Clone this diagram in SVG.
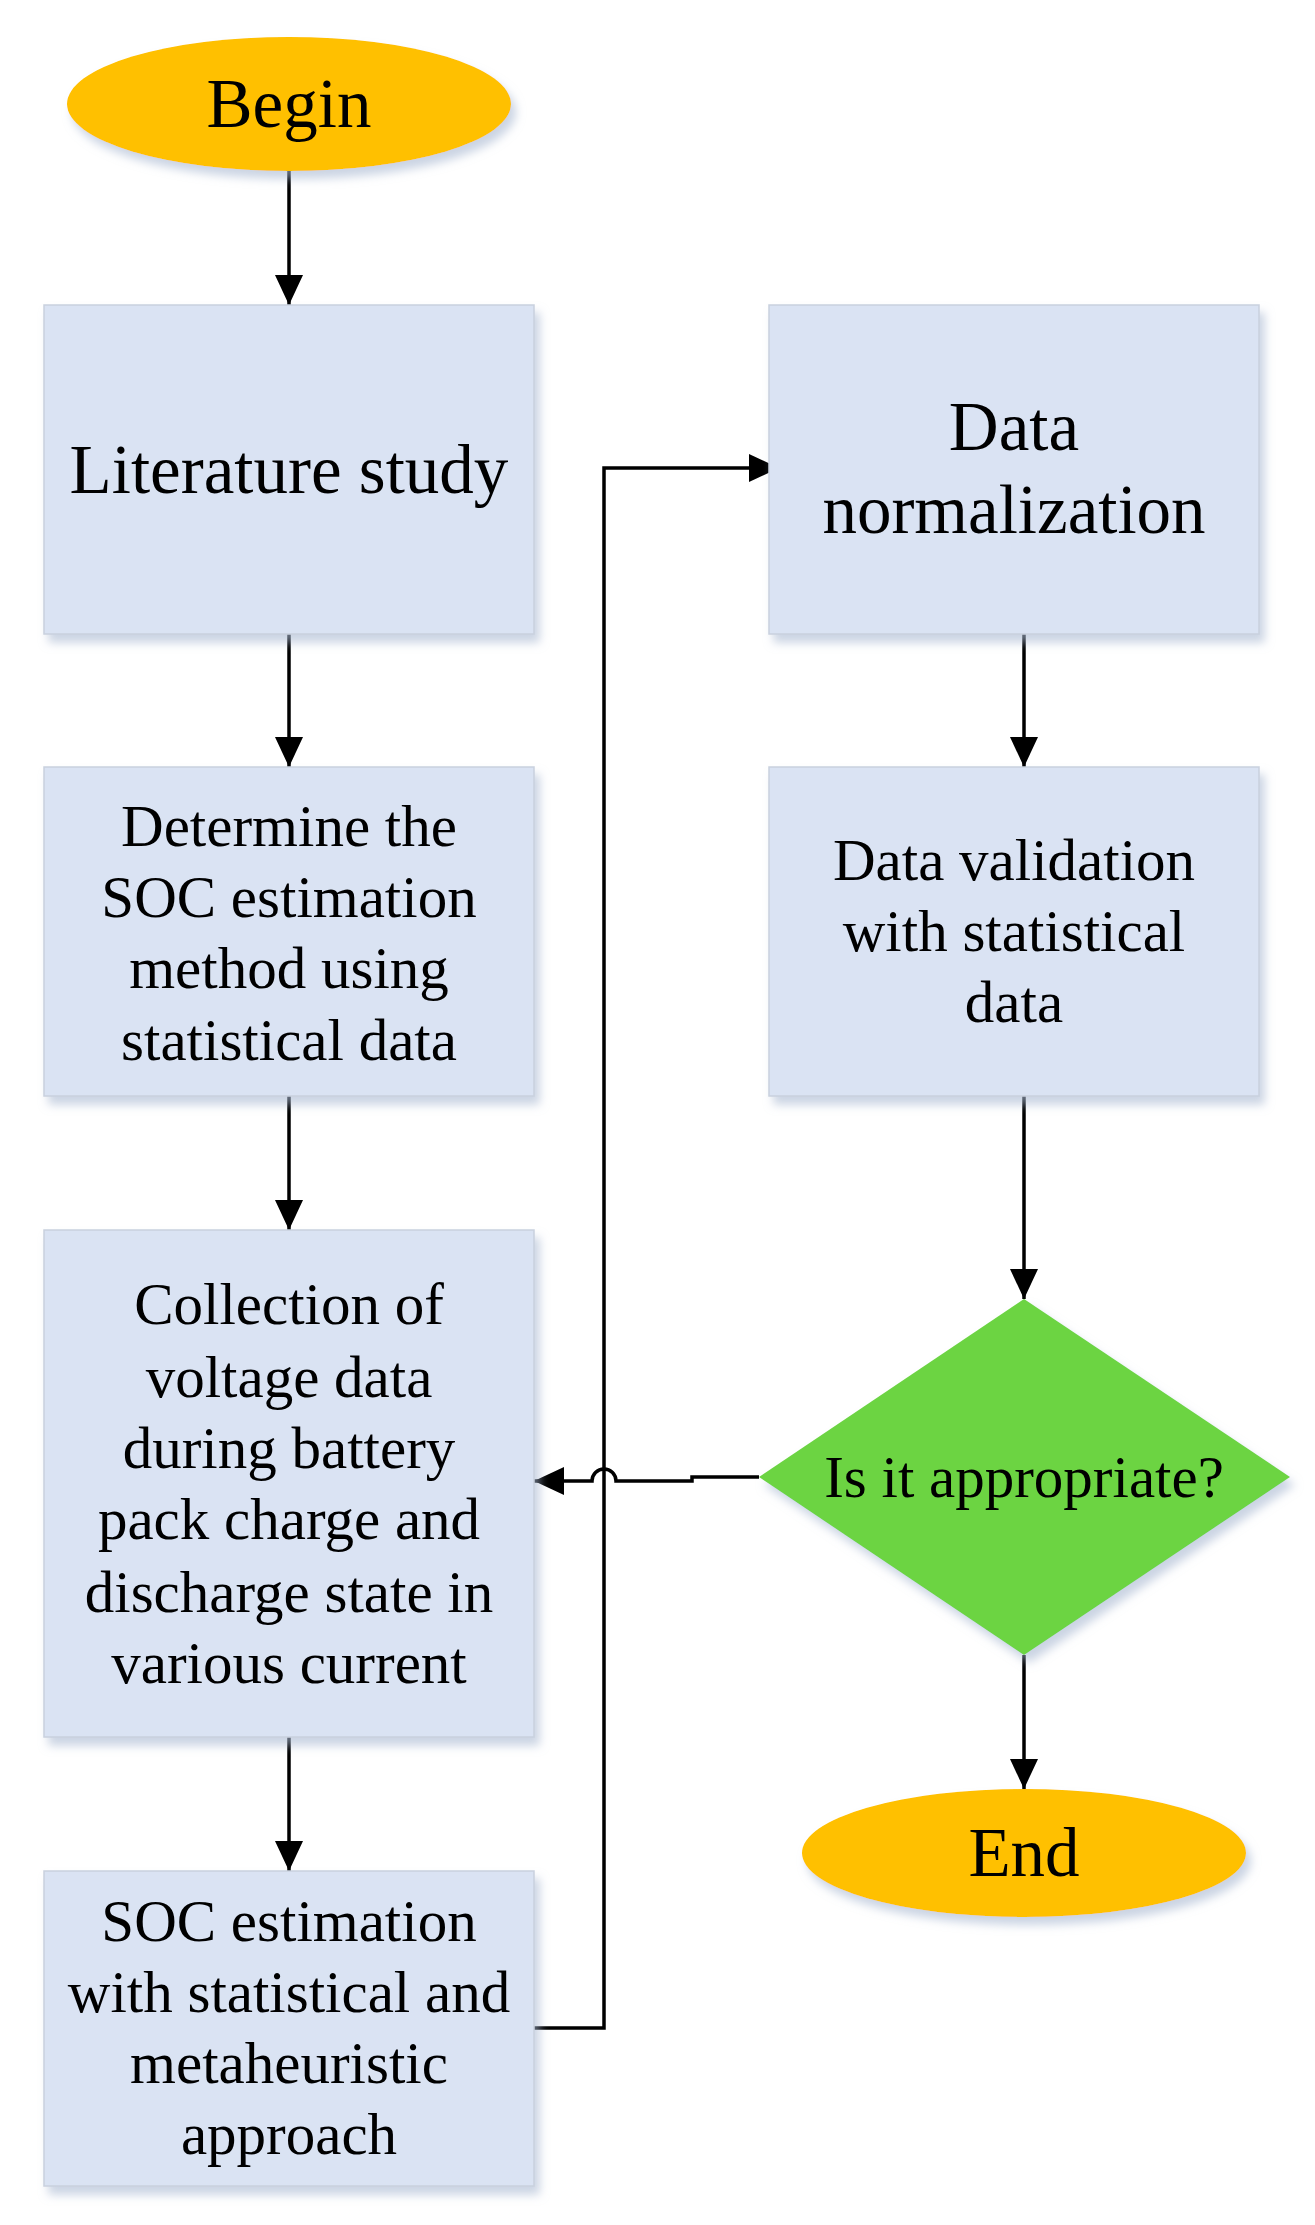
<svg xmlns="http://www.w3.org/2000/svg" width="1315" height="2225" viewBox="0 0 1315 2225">
<style>
.box{fill:#DAE3F3;stroke:#C9D1DE;stroke-width:1.5}
.term{fill:#FFC000}
.dec{fill:#6CD443}
text{font-family:"Liberation Serif","Times New Roman",serif;fill:#000;text-anchor:middle;dominant-baseline:central}
.b{font-size:59px}
.L{font-size:69px}
.ln{fill:none;stroke:#000;stroke-width:3.5}
</style>
<defs>
<filter id="sh" x="-10%" y="-10%" width="130%" height="130%">
<feDropShadow dx="5" dy="8" stdDeviation="5" flood-color="#A8B8D0" flood-opacity="0.6"/>
</filter>
<marker id="arb" viewBox="0 0 30 28" refX="30" refY="14" markerWidth="30" markerHeight="28" orient="auto" markerUnits="userSpaceOnUse">
<path d="M0,0 L30,14 L0,28 z" fill="#000"/>
</marker>
</defs>
<g id="connectors">
<line class="ln" x1="289" y1="171" x2="289" y2="305" marker-end="url(#arb)"/>
<line class="ln" x1="289" y1="634" x2="289" y2="767" marker-end="url(#arb)"/>
<line class="ln" x1="289" y1="1096" x2="289" y2="1230" marker-end="url(#arb)"/>
<line class="ln" x1="289" y1="1737" x2="289" y2="1871" marker-end="url(#arb)"/>
<polyline class="ln" points="534,2028 604,2028 604,468 779,468" marker-end="url(#arb)"/>
<line class="ln" x1="1024" y1="634" x2="1024" y2="767" marker-end="url(#arb)"/>
<line class="ln" x1="1024" y1="1096" x2="1024" y2="1299" marker-end="url(#arb)"/>
<line class="ln" x1="1024" y1="1655" x2="1024" y2="1789" marker-end="url(#arb)"/>
<path class="ln" d="M759,1477 L692,1477 L692,1481 L616,1481 A12,12 0 0 0 592,1481 L534,1481" marker-end="url(#arb)"/>
</g>
<g id="begin"><ellipse class="term" filter="url(#sh)" cx="289" cy="104" rx="222" ry="67"/><text class="L" x="289" y="104">Begin</text></g>
<g id="literature"><rect class="box" filter="url(#sh)" x="44" y="305" width="490" height="329"/><text class="L" x="289" y="470">Literature study</text></g>
<g id="determine"><rect class="box" filter="url(#sh)" x="44" y="767" width="490" height="329"/>
<text class="b" x="289" y="826">Determine the</text><text class="b" x="289" y="897">SOC estimation</text><text class="b" x="289" y="968">method using</text><text class="b" x="289" y="1040">statistical data</text></g>
<g id="collection"><rect class="box" filter="url(#sh)" x="44" y="1230" width="490" height="507"/>
<text class="b" x="289" y="1304">Collection of</text><text class="b" x="289" y="1377">voltage data</text><text class="b" x="289" y="1448">during battery</text><text class="b" x="289" y="1519">pack charge and</text><text class="b" x="289" y="1592">discharge state in</text><text class="b" x="289" y="1663">various current</text></g>
<g id="soc"><rect class="box" filter="url(#sh)" x="44" y="1871" width="490" height="315"/>
<text class="b" x="289" y="1921">SOC estimation</text><text class="b" x="289" y="1992">with statistical and</text><text class="b" x="289" y="2063">metaheuristic</text><text class="b" x="289" y="2134">approach</text></g>
<g id="normalization"><rect class="box" filter="url(#sh)" x="779" y="305" width="490" height="329" transform="translate(-10,0)"/>
<text class="L" x="1014" y="427">Data</text><text class="L" x="1014" y="510">normalization</text></g>
<g id="validation"><rect class="box" filter="url(#sh)" x="769" y="767" width="490" height="329"/>
<text class="b" x="1014" y="860">Data validation</text><text class="b" x="1014" y="931">with statistical</text><text class="b" x="1014" y="1002">data</text></g>
<g id="decision"><polygon class="dec" filter="url(#sh)" points="1024,1299 1290,1477 1024,1655 759,1477"/><text class="b" x="1024" y="1477">Is it appropriate?</text></g>
<g id="end"><ellipse class="term" filter="url(#sh)" cx="1024" cy="1853" rx="222" ry="64"/><text class="L" x="1024" y="1853">End</text></g>
</svg>
